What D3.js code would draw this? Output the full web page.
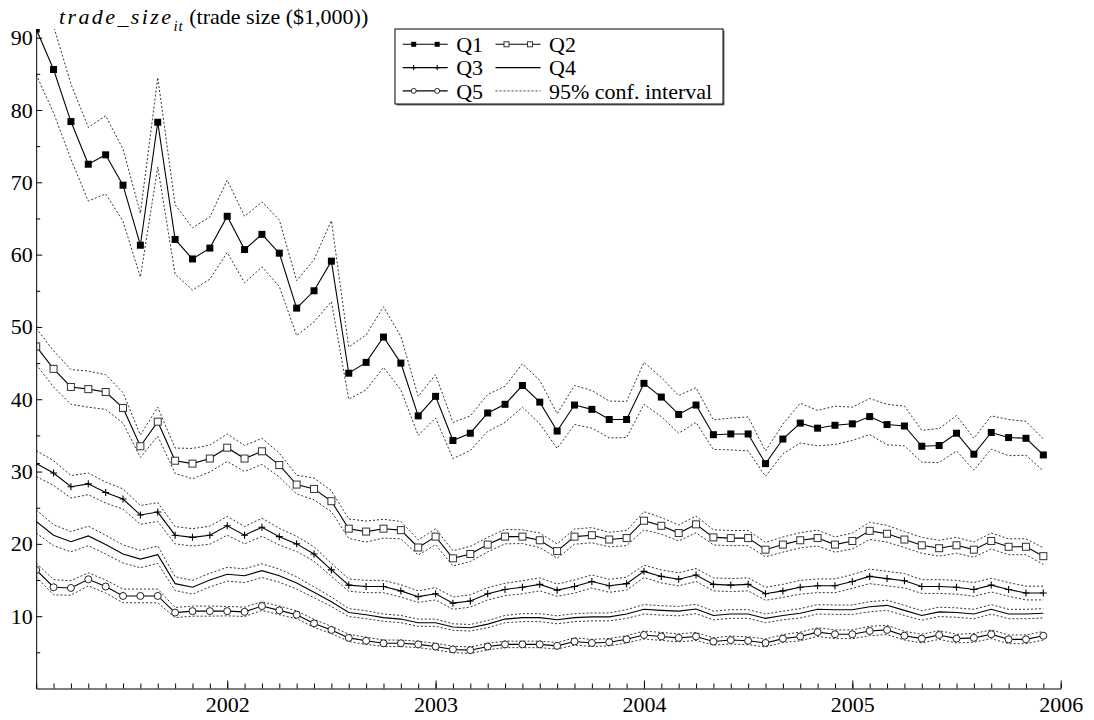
<!DOCTYPE html>
<html>
<head>
<meta charset="utf-8">
<script src="https://cdnjs.cloudflare.com/ajax/libs/d3/7.8.5/d3.min.js"></script>
<style>
	body { margin: 0; background: #fff; }
	text { font-family: "Liberation Serif", "Times New Roman", serif; fill: #000; }
</style>
</head>
<body>
<div id="myChart"></div>
<script>

// Monthly observations, Feb 2001 .. Dec 2005 (59 months)
var startYear = 2001, startMonth = 2;
var yearLabels = ["2002", "2003", "2004", "2005", "2006"];
var yTickValues = [10, 20, 30, 40, 50, 60, 70, 80, 90];

var q1 = [91.2,85.6,78.4,72.5,73.8,69.6,61.3,78.3,62.1,59.4,60.9,65.3,60.7,62.8,60.2,52.6,55.0,59.1,43.6,45.1,
	48.6,45.0,37.7,40.4,34.3,35.3,38.1,39.3,41.9,39.6,35.6,39.2,38.6,37.2,37.2,42.2,40.3,37.9,39.2,35.1,
	35.2,35.2,31.1,34.5,36.7,36.0,36.4,36.6,37.6,36.5,36.3,33.5,33.6,35.3,32.4,35.4,34.7,34.6,32.3];
var q2 = [47.3,44.2,41.7,41.4,41.0,38.8,33.5,36.9,31.5,31.1,31.8,33.3,31.8,32.8,30.9,28.2,27.6,25.9,22.1,21.7,
	22.1,21.9,19.5,21.0,18.0,18.6,19.9,21.0,21.0,20.5,19.0,21.0,21.2,20.6,20.8,23.2,22.5,21.5,22.7,20.9,
	20.8,20.8,19.2,19.9,20.5,20.8,19.9,20.4,21.8,21.4,20.6,19.8,19.4,19.8,19.2,20.4,19.6,19.6,18.3];
var q3 = [31.1,29.8,27.9,28.3,27.1,26.2,24.0,24.4,21.2,20.9,21.2,22.5,21.2,22.3,21.0,20.0,18.6,16.4,14.3,14.1,
	14.1,13.5,12.7,13.1,11.8,12.1,13.1,13.7,14.0,14.4,13.6,14.1,14.8,14.2,14.5,16.2,15.5,15.1,15.7,14.4,
	14.3,14.4,13.1,13.5,14.0,14.2,14.2,14.8,15.5,15.2,14.9,14.1,14.1,14.0,13.7,14.3,13.7,13.2,13.2];
var q4 = [23.1,21.2,20.3,21.1,19.9,18.6,17.9,18.5,14.5,14.0,15.0,15.8,15.6,16.3,15.6,14.6,13.3,12.0,10.5,10.2,
	9.8,9.6,9.1,9.1,8.5,8.4,8.9,9.6,9.8,9.8,9.5,9.8,9.9,9.9,10.3,10.95,10.8,10.7,11.0,10.1,
	10.3,10.3,9.7,10.1,10.4,10.95,10.9,10.9,11.3,11.5,10.8,10.1,10.6,10.5,10.3,10.95,10.3,10.3,10.4];
var q5 = [16.4,14.0,13.9,15.1,14.1,12.8,12.8,12.8,10.5,10.7,10.7,10.7,10.6,11.4,10.8,10.2,9.0,8.1,7.0,6.6,
	6.25,6.25,6.1,5.8,5.4,5.3,5.8,6.1,6.1,6.1,5.9,6.5,6.3,6.4,6.8,7.4,7.2,7.0,7.2,6.5,
	6.7,6.6,6.3,6.9,7.2,7.8,7.5,7.5,7.95,8.1,7.3,6.9,7.4,6.9,7.0,7.5,6.8,6.8,7.3];

// half widths of the 95% confidence interval
var q1ci = [6.3,6.0,5.2,5.1,5.4,5.0,4.4,6.2,4.8,4.3,4.3,5.0,4.6,4.5,4.6,3.8,4.3,5.6,3.6,3.8,
	4.2,3.7,2.7,3.0,2.5,2.4,2.55,2.5,3.0,3.0,2.4,2.7,2.6,2.55,2.5,2.9,2.7,2.6,2.4,2.05,
	2.2,2.35,1.75,2.05,2.75,2.45,2.65,2.3,2.5,2.8,2.75,2.2,2.35,2.45,2.2,2.3,2.5,2.35,2.2];
var q2ci = [2.5,2.5,2.4,2.5,2.4,2.1,1.55,2.0,1.75,2.1,1.85,1.9,1.8,1.8,1.65,1.3,1.5,1.45,1.35,1.45,
	1.3,1.2,1.05,1.1,1.05,1.05,1.0,1.0,0.95,1.0,1.0,1.05,1.05,1.0,1.05,1.25,1.15,1.1,1.15,1.05,
	1.05,1.05,1.0,1.05,1.05,1.1,1.05,1.1,1.2,1.15,1.1,1.1,1.1,1.1,1.05,1.1,1.1,1.1,1.15];
var q3ci = [1.8,1.7,1.55,1.5,1.45,1.4,1.3,1.3,1.2,1.2,1.25,1.3,1.2,1.25,1.15,1.05,1.0,0.9,0.85,0.85,
	0.85,0.85,0.8,0.85,0.85,0.85,0.85,0.85,0.9,0.9,0.85,0.9,0.9,0.9,0.9,0.85,0.9,0.9,0.9,0.9,
	0.9,0.9,0.9,0.9,0.95,0.95,0.95,0.95,1.0,1.0,1.0,0.95,0.95,0.95,0.95,0.95,0.95,0.95,0.95];
var q4ci = [1.6,1.45,1.4,1.35,1.3,1.25,1.2,1.2,0.95,0.95,0.95,0.95,0.95,0.95,0.9,0.85,0.75,0.65,0.55,0.55,
	0.5,0.5,0.5,0.5,0.45,0.45,0.5,0.5,0.55,0.55,0.55,0.55,0.55,0.55,0.6,0.65,0.65,0.65,0.65,0.6,
	0.6,0.6,0.6,0.6,0.65,0.65,0.65,0.65,0.7,0.7,0.7,0.65,0.65,0.65,0.65,0.65,0.65,0.65,0.65];
var q5ci = [0.95,1.05,1.0,0.9,0.9,0.95,0.95,0.95,0.7,0.7,0.7,0.65,0.65,0.6,0.6,0.55,0.55,0.5,0.5,0.5,
	0.45,0.45,0.45,0.45,0.45,0.45,0.45,0.45,0.45,0.45,0.45,0.5,0.5,0.5,0.5,0.55,0.55,0.55,0.55,0.5,
	0.55,0.55,0.55,0.55,0.6,0.6,0.6,0.6,0.65,0.65,0.6,0.6,0.6,0.6,0.6,0.6,0.6,0.6,0.6];

var seriesNames = ["Q1", "Q2", "Q3", "Q4", "Q5"];
var seriesValues = [q1, q2, q3, q4, q5];
var seriesCi = [q1ci, q2ci, q3ci, q4ci, q5ci];
var seriesMarker = ["fillsquare", "square", "plus", "none", "circle"];


// Main svg window Sizes
var width = 1094;
var height = 720;

var svg = d3.select("#myChart")
	.append("svg")
	.attr("width", width)
	.attr("height", height);

// plot area in page pixels
var plot = {left: 36.2, right: 1060.7, top: 29, bottom: 688.5};

// time as fractional years, one step per month
function monthTime(i) { return startYear + (startMonth - 1 + i) / 12; }

var xScale = d3.scaleLinear()
	.domain([monthTime(0), +yearLabels[yearLabels.length - 1]])
	.range([plot.left, plot.right]);

var yScale = d3.scaleLinear()
	.domain([0, d3.max(q1)])
	.range([plot.bottom, plot.top]);


// clip for the lines (upper band of Q1 runs off the top)
svg.append("defs").append("clipPath")
	.attr("id", "plotClip")
	.append("rect")
	.attr("x", plot.left)
	.attr("y", plot.top)
	.attr("width", plot.right - plot.left)
	.attr("height", plot.bottom - plot.top);

var lineFn = d3.line()
	.x(function(d) { return xScale(d.t); })
	.y(function(d) { return yScale(d.v); });

var lines = svg.append("g").attr("clip-path", "url(#plotClip)");

seriesValues.forEach(function(vals, s) {
	var ci = seriesCi[s];
	var pts = vals.map(function(v, i) { return {t: monthTime(i), v: v}; });
	var up = vals.map(function(v, i) { return {t: monthTime(i), v: v + ci[i]}; });
	var lo = vals.map(function(v, i) { return {t: monthTime(i), v: v - ci[i]}; });

	[up, lo].forEach(function(band) {
		lines.append("path")
			.datum(band)
			.attr("d", lineFn)
			.attr("fill", "none")
			.attr("stroke", "#333")
			.attr("stroke-width", 1)
			.attr("stroke-dasharray", "2,2");
	});

	lines.append("path")
		.datum(pts)
		.attr("d", lineFn)
		.attr("fill", "none")
		.attr("stroke", "#000")
		.attr("stroke-width", 1.1);

	drawMarkers(lines, seriesMarker[s], pts.map(function(p) {
		return [xScale(p.t), yScale(p.v)];
	}), 7);
});


// markers: squares, open squares, plus signs and circles
function drawMarkers(g, kind, xy, size) {
	var h = size / 2;
	if (kind == "fillsquare" || kind == "square") {
		g.selectAll(null).data(xy).enter().append("rect")
			.attr("x", function(d) { return d[0] - h; })
			.attr("y", function(d) { return d[1] - h; })
			.attr("width", size)
			.attr("height", size)
			.attr("fill", kind == "fillsquare" ? "#000" : "#fff")
			.attr("stroke", kind == "fillsquare" ? "none" : "#333")
			.attr("stroke-width", 1);
	} else if (kind == "circle") {
		g.selectAll(null).data(xy).enter().append("circle")
			.attr("cx", function(d) { return d[0]; })
			.attr("cy", function(d) { return d[1]; })
			.attr("r", h)
			.attr("fill", "#fff")
			.attr("stroke", "#222")
			.attr("stroke-width", 1);
	} else if (kind == "plus") {
		g.selectAll(null).data(xy).enter().append("path")
			.attr("d", function(d) {
				return "M" + (d[0] - h) + "," + d[1] + "H" + (d[0] + h) +
					"M" + d[0] + "," + (d[1] - h) + "V" + (d[1] + h);
			})
			.attr("stroke", "#000")
			.attr("stroke-width", 1.1);
	}
}


// Axes, ticks point inwards
var monthTicks = d3.range(0, 60).map(monthTime);
var yearTicks = yearLabels.map(function(y) { return +y; });

svg.append("g")
	.attr("transform", "translate(0," + plot.bottom + ")")
	.call(d3.axisBottom(xScale).tickValues(monthTicks).tickSizeInner(-5).tickSizeOuter(0).tickFormat(""))
	.call(function(g) { g.selectAll("line").attr("stroke", "#000"); g.select(".domain").attr("stroke", "#000"); });

svg.append("g")
	.attr("transform", "translate(0," + plot.bottom + ")")
	.call(d3.axisBottom(xScale).tickValues(yearTicks).tickSizeInner(-8).tickSizeOuter(0)
		.tickFormat(function(d, i) { return yearLabels[i]; }))
	.call(function(g) {
		g.select(".domain").remove();
		g.selectAll("line").attr("stroke", "#000");
		g.selectAll("text")
			.attr("y", 23)
			.attr("dy", 0)
			.style("font-family", "'Liberation Serif', serif")
			.style("font-size", "22px");
	});

svg.append("g")
	.attr("transform", "translate(" + plot.left + ",0)")
	.call(d3.axisLeft(yScale).tickValues(d3.range(5, 90, 10)).tickSizeInner(-4).tickSizeOuter(0).tickFormat(""))
	.call(function(g) { g.selectAll("line").attr("stroke", "#000"); g.select(".domain").attr("stroke", "#000"); });

svg.append("g")
	.attr("transform", "translate(" + plot.left + ",0)")
	.call(d3.axisLeft(yScale).tickValues(yTickValues).tickSizeInner(-6).tickSizeOuter(0))
	.call(function(g) {
		g.select(".domain").remove();
		g.selectAll("line").attr("stroke", "#000");
		g.selectAll("text")
			.attr("x", -3.5)
			.style("font-family", "'Liberation Serif', serif")
			.style("font-size", "22px");
	});


// Title with the italic variable name and subscript
var title = svg.append("text")
	.attr("x", 59)
	.attr("y", 24)
	.style("font-size", "22px");
title.append("tspan")
	.style("font-style", "italic")
	.style("letter-spacing", "2.4px")
	.text("trade_size");
title.append("tspan")
	.attr("dy", 7)
	.style("font-style", "italic")
	.style("font-size", "15px")
	.style("letter-spacing", "1px")
	.text("it");
title.append("tspan")
	.attr("dy", -7)
	.text(" (trade size ($1,000))");


// Legend box with a small shadow
var legend = {x: 395, y: 29, w: 328, h: 75, row: 23.3};
svg.append("rect")
	.attr("x", legend.x + 1.5).attr("y", legend.y + 1.5)
	.attr("width", legend.w).attr("height", legend.h)
	.attr("fill", "#777");
svg.append("rect")
	.attr("x", legend.x).attr("y", legend.y)
	.attr("width", legend.w).attr("height", legend.h)
	.attr("fill", "#fff")
	.attr("stroke", "#000")
	.attr("stroke-width", 1);

var legendItems = seriesNames.map(function(n, i) { return {name: n, marker: seriesMarker[i], dash: false}; });
legendItems.push({name: "95% conf. interval", marker: "none", dash: true});

legendItems.forEach(function(item, i) {
	var col = i % 2, row = Math.floor(i / 2);
	var x0 = col == 0 ? 402.7 : 495.5;
	var cy = legend.y + 15.3 + row * legend.row;
	var g = svg.append("g");
	g.append("line")
		.attr("x1", x0).attr("x2", x0 + 45)
		.attr("y1", cy).attr("y2", cy)
		.attr("stroke", item.dash ? "#333" : "#000")
		.attr("stroke-width", item.dash ? 1 : 1.1)
		.attr("stroke-dasharray", item.dash ? "2,2" : null);
	drawMarkers(g, item.marker, [[x0 + 11, cy], [x0 + 34.5, cy]], 5);
	g.append("text")
		.attr("x", x0 + 53.5)
		.attr("y", cy)
		.attr("dy", "0.35em")
		.style("font-size", "22px")
		.text(item.name);
});

</script>
</body>
</html>
